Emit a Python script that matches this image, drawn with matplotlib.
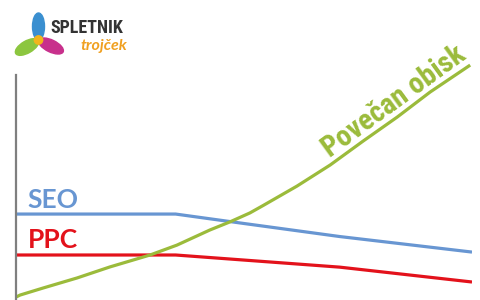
import matplotlib.pyplot as plt
from matplotlib.patches import Ellipse, Circle

# podatki (relativni obisk skozi čas), odčitano s slike
t_seo = [0, 35, 50, 71, 100]
seo = [38.2, 38.2, 34.0, 28.2, 21.3]
t_ppc = [0, 35, 71, 100]
ppc = [20.0, 20.0, 14.6, 8.0]
t_obisk = [0, 0.9, 5.9, 13.4, 20.6, 29.4, 35.3, 42.5, 46.9, 51.3, 54.2,
           61.6, 68.9, 76.1, 83.6, 90.8, 99.6]
obisk = [1.3, 2.2, 5.3, 9.8, 14.7, 20.0, 24.4, 31.1, 34.7, 38.7, 42.0,
         50.6, 60.0, 70.6, 81.3, 92.4, 104.4]

blue = '#6896d2'
red = '#e3121b'
green = '#9bbb3b'

fig = plt.figure(figsize=(4.81, 3.0), dpi=100)
ax = fig.add_axes([16/481, 0, 456/481, 225/300])
ax.plot(t_seo, seo, color=blue, lw=2.3, solid_capstyle='butt')
ax.plot(t_ppc, ppc, color=red, lw=2.3, solid_capstyle='butt')
ax.plot(t_obisk, obisk, color=green, lw=2.3, clip_on=False,
        solid_capstyle='butt', solid_joinstyle='round')
ax.set_xlim(0, 100)
ax.set_ylim(0, 100)
for s in ['top', 'right', 'bottom']:
    ax.spines[s].set_visible(False)
ax.spines['left'].set_color('#7f7f7f')
ax.spines['left'].set_linewidth(1.6)
ax.set_xticks([])
ax.set_yticks([])

font = ['Lato', 'DejaVu Sans']
narrow = ['Roboto Condensed', 'Roboto', 'DejaVu Sans']
ax.text(2.6, 40.8, 'SEO', color=blue, fontsize=19, fontweight='bold', family=font, va='baseline')
ax.text(2.6, 23.1, 'PPC', color=red, fontsize=19, fontweight='bold', family=font, va='baseline')
ax.text(68.8, 63.2, 'Povečan obisk', color=green, fontsize=21, fontweight='bold', family=narrow,
        rotation=36, rotation_mode='anchor', va='baseline', ha='left', clip_on=False)

# logo
lg = fig.add_axes([0, 0, 1, 1], zorder=5)
lg.set_xlim(0, 481)
lg.set_ylim(300, 0)
lg.axis('off')
lg.add_patch(Ellipse((38.5, 26.5), 12, 27, color='#3a8fd0'))
lg.add_patch(Ellipse((27, 47), 26, 12, angle=-30, color='#8cc63f'))
lg.add_patch(Ellipse((51, 46), 27, 12, angle=26, color='#c8308c'))
lg.add_patch(Circle((38.5, 40), 4.2, color='#f2b51c'))
lg.text(50, 33, 'SPLETNIK', color='#333333', fontsize=13, fontweight='bold',
        family=narrow, va='baseline')
lg.text(81, 50, 'trojček', color='#f0a020', fontsize=11.5, style='italic', fontweight='bold',
        family=['Lato', 'DejaVu Sans'], va='baseline')

fig.savefig('out.png', dpi=100)
